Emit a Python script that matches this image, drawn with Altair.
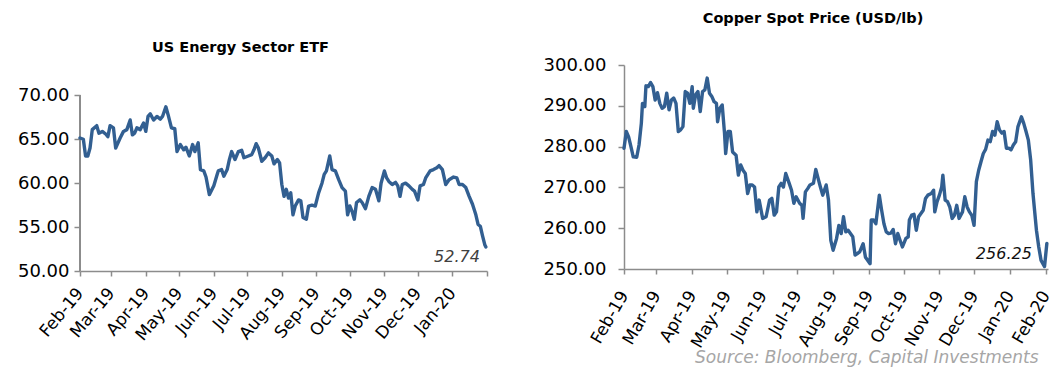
import altair as alt
import pandas as pd

# ---- US Energy Sector ETF (USD) ----
etf_dates = [
    "2019-02-01", "2019-02-04", "2019-02-06", "2019-02-08", "2019-02-10", "2019-02-12",
    "2019-02-16", "2019-02-18", "2019-02-21", "2019-02-24", "2019-02-26", "2019-02-28",
    "2019-03-03", "2019-03-05", "2019-03-09", "2019-03-12", "2019-03-15", "2019-03-18",
    "2019-03-20", "2019-03-22", "2019-03-24", "2019-03-27", "2019-03-30", "2019-04-01",
    "2019-04-03", "2019-04-05", "2019-04-08", "2019-04-11", "2019-04-14", "2019-04-16",
    "2019-04-19", "2019-04-21", "2019-04-24", "2019-04-27", "2019-04-29", "2019-05-02",
    "2019-05-05", "2019-05-07", "2019-05-10", "2019-05-13", "2019-05-15", "2019-05-18",
    "2019-05-20", "2019-05-23", "2019-05-25", "2019-05-28", "2019-06-01", "2019-06-04",
    "2019-06-05", "2019-06-08", "2019-06-10", "2019-06-13", "2019-06-15", "2019-06-17",
    "2019-06-20", "2019-06-23", "2019-06-26", "2019-06-28", "2019-07-02", "2019-07-05",
    "2019-07-07", "2019-07-09", "2019-07-11", "2019-07-14", "2019-07-17", "2019-07-20",
    "2019-07-23", "2019-07-25", "2019-07-28", "2019-07-30", "2019-08-01", "2019-08-03",
    "2019-08-05", "2019-08-07", "2019-08-09", "2019-08-11", "2019-08-13", "2019-08-16",
    "2019-08-18", "2019-08-20", "2019-08-23", "2019-08-25", "2019-08-28", "2019-08-31",
    "2019-09-03", "2019-09-06", "2019-09-08", "2019-09-10", "2019-09-13", "2019-09-15",
    "2019-09-18", "2019-09-21", "2019-09-24", "2019-09-27", "2019-09-29", "2019-10-01",
    "2019-10-03", "2019-10-05", "2019-10-07", "2019-10-10", "2019-10-12", "2019-10-15",
    "2019-10-18", "2019-10-21", "2019-10-24", "2019-10-27", "2019-10-29", "2019-11-01",
    "2019-11-03", "2019-11-05", "2019-11-08", "2019-11-11", "2019-11-13", "2019-11-15",
    "2019-11-17", "2019-11-20", "2019-11-23", "2019-11-26", "2019-11-28", "2019-12-01",
    "2019-12-03", "2019-12-06", "2019-12-08", "2019-12-10", "2019-12-12", "2019-12-15",
    "2019-12-18", "2019-12-20", "2019-12-23", "2019-12-26", "2019-12-29", "2020-01-02",
    "2020-01-05", "2020-01-07", "2020-01-10", "2020-01-13", "2020-01-16", "2020-01-19",
    "2020-01-22", "2020-01-24", "2020-01-26", "2020-01-28", "2020-01-30", "2020-01-31",
]
etf_values = [
    65.15, 65.0, 63.1, 63.1, 64.0, 66.1,
    66.55, 65.7, 65.9, 65.6, 65.3, 66.55,
    66.3, 64.0, 65.15, 65.9, 66.1, 67.2,
    65.5, 65.7, 66.3, 66.1, 66.85, 65.9,
    67.6, 67.9, 67.2, 67.6, 67.3, 67.6,
    68.7, 67.8, 66.3, 66.2, 63.6, 64.4,
    63.8, 64.1, 63.1, 64.4, 63.6, 64.6,
    61.55, 61.4, 60.7, 58.7, 59.7, 61.0,
    61.4, 61.55, 60.8, 61.55, 62.7, 63.6,
    62.7, 63.6, 63.75, 62.9, 63.1, 63.25,
    63.8, 64.5, 64.0, 62.5, 62.9, 63.45,
    63.1, 62.2, 62.7, 62.3, 59.85, 58.5,
    59.3, 58.3, 58.9, 56.4, 57.4, 58.1,
    58.0, 56.1, 55.9, 57.4, 57.5, 57.4,
    58.9, 60.0, 61.0, 61.4, 63.1, 61.55,
    61.4, 60.4, 59.5, 59.1, 56.4, 57.4,
    56.8, 55.9, 57.8, 58.1, 57.8, 57.1,
    58.5, 59.5, 59.3, 58.0, 60.0, 61.4,
    60.6, 60.2, 59.85, 60.1, 59.7, 58.5,
    59.85, 60.0, 59.7, 59.3, 59.1, 58.1,
    59.7, 59.85, 60.6, 61.0, 61.4, 61.55,
    61.75, 62.0, 61.55, 59.85, 60.4, 60.7,
    60.6, 59.85, 59.85, 59.5, 58.5, 57.6,
    56.4, 55.3, 55.1, 54.0, 53.0, 52.74,
]

# ---- Copper spot price (USD/lb) ----
copper_dates = [
    "2019-02-01", "2019-02-03", "2019-02-05", "2019-02-07", "2019-02-09", "2019-02-12",
    "2019-02-14", "2019-02-16", "2019-02-17", "2019-02-19", "2019-02-20", "2019-02-22",
    "2019-02-24", "2019-02-26", "2019-02-28", "2019-03-02", "2019-03-04", "2019-03-06",
    "2019-03-08", "2019-03-10", "2019-03-12", "2019-03-14", "2019-03-16", "2019-03-18",
    "2019-03-20", "2019-03-22", "2019-03-24", "2019-03-26", "2019-03-28", "2019-03-30",
    "2019-04-01", "2019-04-02", "2019-04-04", "2019-04-06", "2019-04-08", "2019-04-10",
    "2019-04-12", "2019-04-14", "2019-04-16", "2019-04-18", "2019-04-20", "2019-04-22",
    "2019-04-23", "2019-04-25", "2019-04-27", "2019-04-29", "2019-04-30", "2019-05-02",
    "2019-05-04", "2019-05-06", "2019-05-09", "2019-05-11", "2019-05-13", "2019-05-15",
    "2019-05-17", "2019-05-19", "2019-05-21", "2019-05-23", "2019-05-25", "2019-05-27",
    "2019-05-29", "2019-06-01", "2019-06-04", "2019-06-07", "2019-06-09", "2019-06-11",
    "2019-06-13", "2019-06-15", "2019-06-17", "2019-06-19", "2019-06-21", "2019-06-24",
    "2019-06-26", "2019-06-28", "2019-06-30", "2019-07-03", "2019-07-05", "2019-07-06",
    "2019-07-08", "2019-07-10", "2019-07-12", "2019-07-15", "2019-07-17", "2019-07-19",
    "2019-07-21", "2019-07-23", "2019-07-26", "2019-07-28", "2019-07-30", "2019-08-01",
    "2019-08-04", "2019-08-06", "2019-08-08", "2019-08-10", "2019-08-12", "2019-08-14",
    "2019-08-16", "2019-08-18", "2019-08-20", "2019-08-22", "2019-08-24", "2019-08-27",
    "2019-08-29", "2019-08-31", "2019-09-02", "2019-09-03", "2019-09-05", "2019-09-07",
    "2019-09-10", "2019-09-12", "2019-09-14", "2019-09-16", "2019-09-18", "2019-09-20",
    "2019-09-22", "2019-09-24", "2019-09-26", "2019-09-28", "2019-09-30", "2019-10-03",
    "2019-10-05", "2019-10-06", "2019-10-08", "2019-10-10", "2019-10-12", "2019-10-14",
    "2019-10-16", "2019-10-18", "2019-10-20", "2019-10-22", "2019-10-25", "2019-10-27",
    "2019-10-28", "2019-10-30", "2019-11-01", "2019-11-03", "2019-11-04", "2019-11-06",
    "2019-11-08", "2019-11-10", "2019-11-12", "2019-11-14", "2019-11-16", "2019-11-18",
    "2019-11-21", "2019-11-23", "2019-11-25", "2019-11-27", "2019-11-29", "2019-12-01",
    "2019-12-03", "2019-12-05", "2019-12-07", "2019-12-09", "2019-12-11", "2019-12-13",
    "2019-12-15", "2019-12-17", "2019-12-19", "2019-12-21", "2019-12-23", "2019-12-25",
    "2019-12-27", "2019-12-29", "2019-12-31", "2020-01-02", "2020-01-04", "2020-01-06",
    "2020-01-08", "2020-01-11", "2020-01-13", "2020-01-15", "2020-01-17", "2020-01-19",
    "2020-01-21", "2020-01-24", "2020-01-26", "2020-01-28", "2020-01-31", "2020-02-02",
]
copper_values = [
    279.6, 283.7, 282.4, 280.0, 277.5, 277.4,
    280.4, 285.7, 290.6, 289.8, 294.9, 294.7,
    295.7, 294.7, 291.4, 293.2, 290.6, 289.4,
    289.8, 293.1, 289.0, 291.4, 291.9, 290.6,
    283.7, 284.1, 284.9, 293.5, 293.1, 290.6,
    294.7, 289.4, 292.7, 293.5, 288.6, 293.5,
    293.9, 296.8, 293.1, 292.3, 291.0, 290.6,
    286.1, 289.4, 290.2, 283.3, 278.3, 283.7,
    283.7, 278.7, 277.9, 273.0, 275.5, 274.2,
    273.4, 268.5, 270.6, 270.6, 270.1, 264.0,
    266.9, 262.4, 262.8, 266.9, 267.3, 263.2,
    264.0, 270.1, 271.0, 270.1, 273.4, 271.0,
    269.3, 266.1, 267.7, 266.1, 265.6, 262.4,
    268.9, 269.7, 270.6, 271.0, 274.4, 272.2,
    270.1, 268.1, 270.6, 266.9, 257.0, 254.6,
    257.5, 260.7, 258.7, 262.8, 259.1, 259.5,
    258.7, 257.9, 253.4, 253.8, 254.2, 256.2,
    252.9, 252.1, 251.3, 262.0, 262.0, 261.1,
    268.1, 264.4, 261.1, 259.1, 258.7, 258.8,
    259.7, 256.2, 258.7, 257.0, 255.4, 257.5,
    257.9, 262.0, 263.2, 263.4, 259.5, 262.8,
    263.6, 264.4, 267.3, 268.1, 268.5, 269.3,
    264.0, 266.5, 268.1, 270.1, 273.0, 266.9,
    266.5, 265.2, 262.4, 263.2, 265.6, 262.4,
    264.0, 267.7, 265.2, 264.0, 263.2, 260.7,
    271.4, 274.2, 276.3, 278.3, 279.3, 281.6,
    281.2, 283.7, 282.8, 286.1, 284.1, 283.3,
    283.7, 279.6, 279.6, 279.2, 280.4, 281.2,
    284.9, 287.3, 285.7, 283.7, 281.6, 276.7,
    268.5, 259.5, 255.4, 252.1, 250.6, 256.25,
]

# Month ticks shared by both date axes
tick_months = [
    "2019-02-01", "2019-03-01", "2019-04-01", "2019-05-01", "2019-06-01", "2019-07-01",
    "2019-08-01", "2019-09-01", "2019-10-01", "2019-11-01", "2019-12-01", "2020-01-01",
    "2020-02-01",
]

etf_ticks = [50, 55, 60, 65, 70]
copper_ticks = [250, 260, 270, 280, 290, 300]

FONT = "DejaVu Sans"
LINE = "#325f91"
GREY = "#8c8c8c"
MONTH_FMT = "utcFormat(datum.value, '%b-%y')"


def dt(s):
    y, m, d = (int(p) for p in s.split("-"))
    return alt.DateTime(year=y, month=m, date=d, utc=True)


def x_enc(end, angle, pad, hide_last):
    if hide_last:
        label_expr = f"{MONTH_FMT} == 'Feb-20' ? '' : {MONTH_FMT}"
    else:
        label_expr = MONTH_FMT
    return alt.X(
        "date:T",
        scale=alt.Scale(type="utc", domain=[dt("2019-02-01"), dt(end)]),
        axis=alt.Axis(
            values=[dt(m) for m in tick_months],
            labelExpr=label_expr,
            labelAngle=angle,
            labelAlign="right",
            labelBaseline="middle",
            labelFontSize=17,
            labelPadding=pad,
            labelOverlap=False,
            labelBound=False,
            labelFlush=False,
            tickSize=5,
            title=None,
        ),
    )


def panel(dates, values, title, y_domain, y_ticks, x_end, angle, x_pad, hide_last,
          width, height, title_dx, title_offset, label_color, label_dx, label_dy,
          y_label_pad, draw_axis_line):
    df = pd.DataFrame({"date": dates, "value": values})
    last = df.tail(1)
    y = alt.Y(
        "value:Q",
        scale=alt.Scale(domain=y_domain, nice=False, zero=False),
        axis=alt.Axis(values=y_ticks, format=".2f", tickSize=6, labelPadding=y_label_pad,
                      domain=not draw_axis_line, title=None),
    )
    x = x_enc(x_end, angle, x_pad, hide_last)
    line = alt.Chart(df).mark_line(color=LINE, strokeWidth=3.4,
                                   strokeJoin="round", strokeCap="round").encode(x=x, y=y)
    end_label = alt.Chart(last).mark_text(
        align="right", baseline="middle", dx=label_dx, dy=label_dy,
        font=FONT, fontSize=16, fontStyle="italic", color=label_color,
    ).encode(x=x, y=y, text=alt.Text("value:Q", format=".2f"))
    layers = [line, end_label]
    if draw_axis_line:
        axis_line = alt.Chart(df).mark_rule(color=GREY, strokeWidth=1.5).encode(
            x=alt.value(0), y=alt.datum(y_ticks[0]), y2=alt.datum(y_ticks[-1])
        )
        layers = [axis_line] + layers
    return alt.layer(*layers).properties(
        width=width,
        height=height,
        title=alt.TitleParams(
            title, font=FONT, fontSize=14.5, fontWeight="bold", color="#000000",
            anchor="middle", dx=title_dx, offset=title_offset,
        ),
    )


left = panel(etf_dates, etf_values, "US Energy Sector ETF", [50, 73.46], etf_ticks,
             "2020-02-01", -50, 14, True, 407, 206, -43, 10, "#404040", -6, 10, 5, True)
right = panel(copper_dates, copper_values, "Copper Spot Price (USD/lb)", [250, 300],
              copper_ticks, "2020-02-03", -60, 18, False, 424, 204, -23, 30, "#111111",
              -15, 10, 12, False)

chart = alt.hconcat(left, right, spacing=49).properties(
    padding={"left": 17, "top": 10, "right": 5, "bottom": 0},
    title=alt.TitleParams(
        "Source: Bloomberg, Capital Investments", orient="bottom", anchor="end",
        font=FONT, fontSize=17, fontStyle="italic", fontWeight="normal",
        color="#a6a6a6", offset=0, dx=-14,
    ),
).configure_view(strokeWidth=0).configure_axis(
    labelFont=FONT, labelFontSize=18, labelColor="#000000",
    domainColor=GREY, tickColor=GREY, domainWidth=1.5, tickWidth=1.5, grid=False,
)

chart.save("out.html", embed_options={"renderer": "svg", "actions": False})
